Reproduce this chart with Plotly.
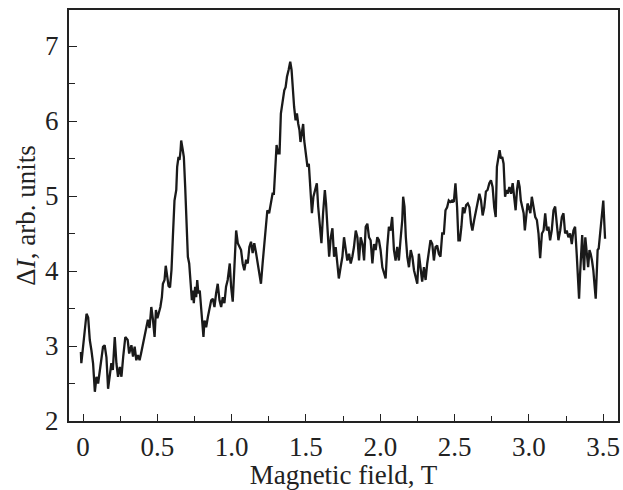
import plotly.graph_objects as go

field_T = [
    -0.015, -0.012, -0.005, 0.01, 0.023, 0.034, 0.045, 0.056, 0.067, 0.079, 0.09, 0.101, 0.112, 0.134, 0.145,
    0.157, 0.168, 0.179, 0.19, 0.20, 0.213, 0.224, 0.235, 0.247, 0.258, 0.27, 0.284, 0.30, 0.31, 0.325, 0.336,
    0.347, 0.358, 0.369, 0.38, 0.39, 0.403, 0.414, 0.425, 0.436, 0.447, 0.459, 0.47, 0.481, 0.49, 0.50, 0.52,
    0.53, 0.537, 0.548, 0.556, 0.565, 0.575, 0.585, 0.595, 0.604, 0.615, 0.627, 0.633, 0.642, 0.649, 0.656,
    0.66, 0.671, 0.678, 0.687, 0.696, 0.705, 0.714, 0.723, 0.732, 0.739, 0.745, 0.754, 0.761, 0.768, 0.776,
    0.785, 0.795, 0.803, 0.81, 0.817, 0.828, 0.84, 0.85, 0.862, 0.873, 0.884, 0.895, 0.906, 0.918, 0.929, 0.94,
    0.951, 0.962, 0.973, 0.987, 0.996, 1.007, 1.018, 1.03, 1.041, 1.052, 1.063, 1.074, 1.085, 1.097, 1.108,
    1.119, 1.13, 1.141, 1.152, 1.164, 1.174, 1.186, 1.197, 1.208, 1.22, 1.23, 1.24, 1.252, 1.264, 1.275, 1.284,
    1.293, 1.302, 1.312, 1.322, 1.331, 1.342, 1.354, 1.363, 1.372, 1.383, 1.394, 1.403, 1.412, 1.42, 1.43,
    1.439, 1.448, 1.456, 1.463, 1.472, 1.481, 1.488, 1.499, 1.51, 1.519, 1.528, 1.54, 1.55, 1.562, 1.573,
    1.582, 1.593, 1.604, 1.615, 1.627, 1.635, 1.644, 1.656, 1.667, 1.678, 1.689, 1.70, 1.711, 1.721, 1.733,
    1.745, 1.756, 1.767, 1.778, 1.79, 1.801, 1.812, 1.823, 1.835, 1.846, 1.857, 1.868, 1.88, 1.891, 1.902,
    1.913, 1.924, 1.935, 1.947, 1.958, 1.969, 1.98, 1.991, 2.002, 2.014, 2.025, 2.036, 2.047, 2.058, 2.069,
    2.08, 2.092, 2.103, 2.114, 2.125, 2.136, 2.148, 2.154, 2.163, 2.172, 2.182, 2.193, 2.205, 2.216, 2.227,
    2.238, 2.249, 2.26, 2.271, 2.282, 2.294, 2.305, 2.316, 2.327, 2.338, 2.35, 2.361, 2.372, 2.383, 2.394,
    2.405, 2.417, 2.428, 2.439, 2.45, 2.461, 2.472, 2.483, 2.495, 2.506, 2.517, 2.526, 2.536, 2.546, 2.556,
    2.566, 2.578, 2.589, 2.6, 2.611, 2.62, 2.632, 2.644, 2.655, 2.667, 2.678, 2.689, 2.7, 2.711, 2.722, 2.734,
    2.745, 2.756, 2.767, 2.777, 2.785, 2.795, 2.803, 2.812, 2.821, 2.83, 2.84, 2.849, 2.857, 2.869, 2.88,
    2.891, 2.902, 2.911, 2.92, 2.929, 2.938, 2.946, 2.956, 2.965, 2.973, 2.982, 2.991, 3.0, 3.01, 3.02, 3.032,
    3.043, 3.054, 3.065, 3.076, 3.088, 3.099, 3.11, 3.121, 3.132, 3.143, 3.154, 3.166, 3.177, 3.188, 3.199,
    3.211, 3.222, 3.233, 3.244, 3.255, 3.266, 3.278, 3.289, 3.30, 3.311, 3.322, 3.331, 3.338, 3.345, 3.352,
    3.359, 3.366, 3.372, 3.38, 3.39, 3.399, 3.408, 3.416, 3.425, 3.434, 3.443, 3.45, 3.456, 3.463, 3.47,
    3.479, 3.488, 3.495, 3.501, 3.507, 3.513,
]

delta_I = [
    2.92, 2.77, 2.90, 3.20, 3.43, 3.38, 3.08, 2.94, 2.77, 2.39, 2.59, 2.50, 2.68, 2.99, 3.01,
    2.85, 2.43, 2.59, 2.77, 2.68, 3.12, 2.77, 2.59, 2.72, 2.59, 2.86, 3.12, 3.08, 2.90, 3.01, 2.86,
    2.99, 2.81, 2.88, 2.81, 2.90, 3.03, 3.17, 3.25, 3.35, 3.24, 3.52, 3.35, 3.12, 3.48, 3.37, 3.52,
    3.65, 3.83, 3.88, 4.07, 3.93, 3.80, 3.78, 4.02, 4.45, 4.94, 5.08, 5.39, 5.52, 5.48, 5.61,
    5.74, 5.61, 5.52, 5.12, 4.72, 4.19, 4.10, 3.88, 3.61, 3.74, 3.57, 3.79, 3.65, 3.88, 3.70,
    3.74, 3.52, 3.25, 3.12, 3.34, 3.25, 3.39, 3.48, 3.61, 3.63, 3.52, 3.70, 3.83, 3.61, 3.52, 3.65,
    3.57, 3.79, 3.88, 4.10, 3.79, 3.59, 4.01, 4.54, 4.37, 4.32, 4.28, 4.10, 4.01, 4.15, 4.10,
    4.32, 4.39, 4.24, 4.37, 4.24, 4.10, 3.97, 3.83, 4.10, 4.41, 4.68, 4.81, 4.77, 4.90, 5.03, 5.03,
    5.34, 5.68, 5.57, 5.57, 6.10, 6.28, 6.41, 6.45, 6.59, 6.68, 6.79, 6.68, 6.37, 6.19, 6.01,
    6.10, 5.96, 5.88, 5.72, 5.88, 5.96, 5.74, 5.57, 5.39, 5.43, 5.12, 4.77, 4.99, 5.08, 5.17,
    4.86, 4.59, 4.37, 4.77, 5.08, 4.90, 4.54, 4.19, 4.45, 4.57, 4.19, 4.32, 4.10, 3.90, 4.05,
    4.19, 4.45, 4.32, 4.14, 4.23, 4.10, 4.19, 4.32, 4.54, 4.45, 4.14, 4.45, 4.36, 4.14, 4.59,
    4.63, 4.45, 4.41, 4.10, 4.36, 4.28, 4.45, 4.41, 4.28, 4.05, 3.97, 3.90, 4.32, 4.59, 4.54,
    4.72, 4.28, 4.14, 4.32, 4.14, 4.41, 4.68, 4.99, 4.86, 4.45, 4.19, 4.05, 4.28, 4.19, 4.01,
    3.92, 3.83, 4.23, 4.01, 3.86, 4.05, 3.88, 4.10, 4.28, 4.41, 4.36, 4.14, 4.32, 4.34, 4.23,
    4.19, 4.50, 4.50, 4.81, 4.85, 4.94, 4.92, 4.94, 4.92, 5.17, 4.85, 4.41, 4.41, 4.59, 4.85,
    4.77, 4.88, 4.90, 4.85, 4.63, 4.54, 4.68, 4.81, 4.88, 5.03, 4.94, 4.74, 4.85, 5.06, 5.08, 5.17,
    5.21, 5.12, 4.85, 4.72, 5.39, 5.52, 5.61, 5.50, 5.52, 5.43, 4.99, 5.08, 5.03, 5.12, 5.03,
    5.17, 4.94, 4.81, 5.08, 5.21, 5.12, 4.94, 4.85, 4.77, 4.54, 4.77, 4.90, 4.85, 4.77, 4.99, 4.85,
    4.72, 4.68, 4.50, 4.17, 4.50, 4.54, 4.77, 4.54, 4.59, 4.41, 4.54, 4.81, 4.86, 4.63, 4.41,
    4.54, 4.72, 4.77, 4.50, 4.54, 4.45, 4.50, 4.36, 4.54, 4.59, 4.23, 3.88, 3.63, 3.97, 4.28,
    4.48, 4.19, 4.01, 4.45, 4.19, 4.05, 4.28, 4.23, 4.14, 4.01, 3.79, 3.63, 3.92, 4.28, 4.30,
    4.50, 4.59, 4.77, 4.94, 4.68, 4.43,
]

x_tickvals = [0, 0.5, 1.0, 1.5, 2.0, 2.5, 3.0, 3.5]
x_ticktext = ["0", "0.5", "1.0", "1.5", "2.0", "2.5", "3.0", "3.5"]
y_tickvals = [2, 3, 4, 5, 6, 7]
y_ticktext = ["2", "3", "4", "5", "6", "7"]

font_family = "Liberation Serif, Times New Roman, serif"

fig = go.Figure()
fig.add_trace(go.Scatter(
    x=field_T, y=delta_I, mode="lines",
    line=dict(color="#1a1a1a", width=2.3),
    showlegend=False, hoverinfo="skip",
))

fig.update_layout(
    width=623, height=490,
    margin=dict(l=69, r=3, t=10, b=69),
    paper_bgcolor="white", plot_bgcolor="white",
    font=dict(family=font_family, size=27, color="#222222"),
)

fig.update_xaxes(
    range=[-0.095, 3.6],
    tickvals=x_tickvals, ticktext=x_ticktext,
    ticks="inside", ticklen=7, tickwidth=1.3, tickcolor="#222222",
    minor=dict(dtick=0.25, tick0=0, ticks="inside", ticklen=5, tickwidth=1.3, tickcolor="#222222"),
    showline=True, linecolor="#222222", linewidth=2, mirror=True,
    showgrid=False, zeroline=False,
    ticklabelstandoff=1,
    title=dict(text="Magnetic field, T", font=dict(size=27), standoff=4),
)

fig.update_yaxes(
    range=[2, 7.48],
    tickvals=y_tickvals, ticktext=y_ticktext,
    ticks="inside", ticklen=8, tickwidth=1.3, tickcolor="#222222",
    minor=dict(dtick=0.5, tick0=2, ticks="inside", ticklen=6, tickwidth=1.3, tickcolor="#222222"),
    showline=True, linecolor="#222222", linewidth=2, mirror=True,
    showgrid=False, zeroline=False,
    ticklabelstandoff=3,
    title=dict(text="Δ<i>I</i>, arb. units", font=dict(size=27), standoff=2),
)

fig.write_html(
    "out.html",
    config={"displayModeBar": False},
    post_script="document.body.style.margin='0';",
)
